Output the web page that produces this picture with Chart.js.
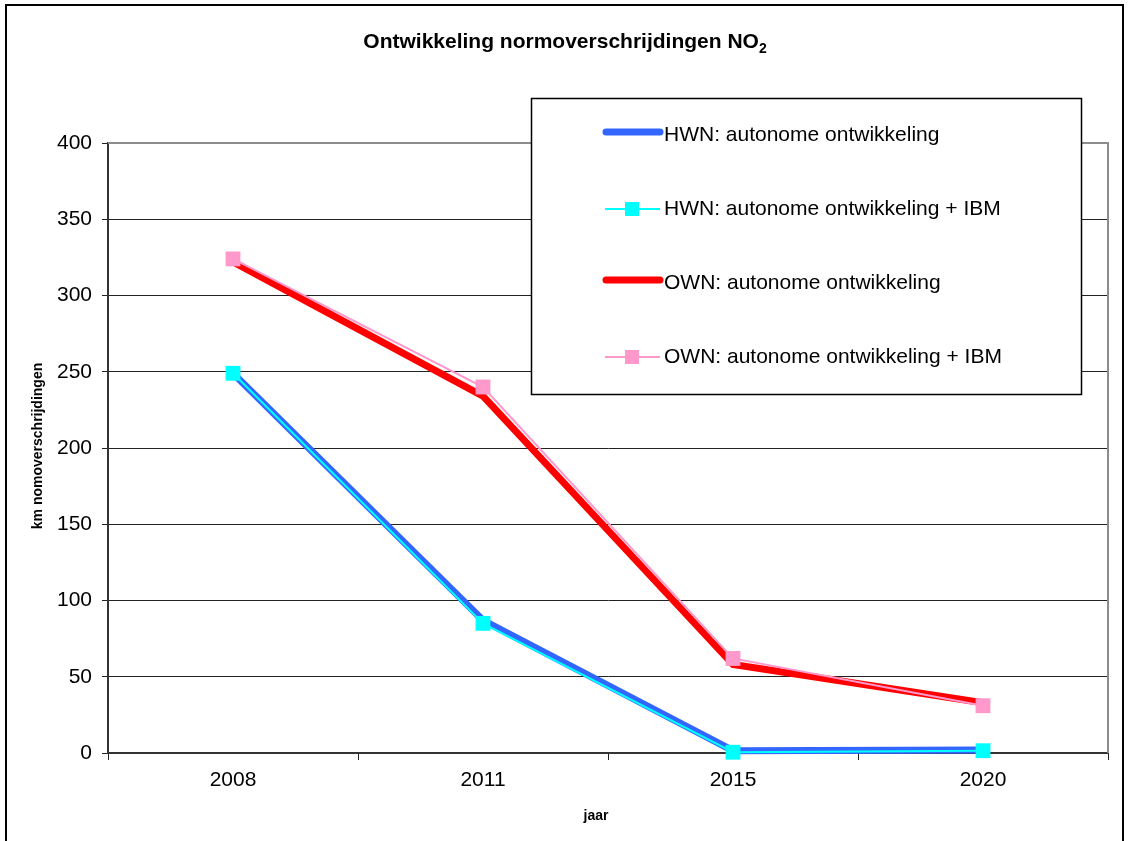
<!DOCTYPE html>
<html>
<head>
<meta charset="utf-8">
<title>Ontwikkeling normoverschrijdingen NO2</title>
<script src="https://cdn.jsdelivr.net/npm/chart.js@4.4.1/dist/chart.umd.min.js"></script>
<style>
    html, body { margin: 0; padding: 0; background: #fff; }
    #wrap { position: relative; width: 1129px; height: 841px; }
</style>
</head>
<body>
<div id="wrap"><canvas id="no2chart"></canvas></div>
<script>
"use strict";

/* jaren en km normoverschrijding per scenario */
var jaren = ['2008', '2011', '2015', '2020'];
var hwnAutonoom = [249, 87, 1.5, 2];
var hwnIbm = [249, 85, 0.5, 1.5];
var ownAutonoom = [322, 234, 58, 33];
var ownIbm = [324, 240, 62, 31];
var yTicks = [0, 50, 100, 150, 200, 250, 300, 350, 400];

var FONT = "Arial, 'Liberation Sans', sans-serif";

/* frame, titles, plot border and the boxed legend */
var decorPlugin = {
    id: 'decor',
    beforeDatasetsDraw: function (chart) {
        var ctx = chart.ctx, a = chart.chartArea;
        ctx.save();
        ctx.strokeStyle = '#8c8c8c';
        ctx.lineWidth = 2;
        ctx.beginPath();
        ctx.moveTo(a.left, a.top);
        ctx.lineTo(a.right, a.top);
        ctx.lineTo(a.right, a.bottom);
        ctx.stroke();
        ctx.restore();
    },
    afterDraw: function (chart) {
        var ctx = chart.ctx;
        ctx.save();

        // outer frame
        ctx.strokeStyle = '#000';
        ctx.lineWidth = 2;
        ctx.strokeRect(6, 5, 1117, 860);

        // title with subscript 2
        ctx.fillStyle = '#000';
        ctx.textBaseline = 'middle';
        ctx.font = 'bold 21px ' + FONT;
        var main = 'Ontwikkeling normoverschrijdingen NO';
        var w1 = ctx.measureText(main).width;
        ctx.font = 'bold 14px ' + FONT;
        var w2 = ctx.measureText('2').width;
        var x0 = 565 - (w1 + w2) / 2;
        ctx.font = 'bold 21px ' + FONT;
        ctx.textAlign = 'left';
        ctx.fillText(main, x0, 42);
        ctx.font = 'bold 14px ' + FONT;
        ctx.fillText('2', x0 + w1, 49);

        // axis titles
        ctx.font = 'bold 14px ' + FONT;
        ctx.textAlign = 'center';
        ctx.fillText('jaar', 596, 816);
        ctx.save();
        ctx.translate(38, 446);
        ctx.rotate(-Math.PI / 2);
        ctx.fillText('km nomoverschrijdingen', 0, 0);
        ctx.restore();

        // legend box
        var lx = 531, ly = 98, lw = 550, lh = 296;
        ctx.fillStyle = '#fff';
        ctx.fillRect(lx, ly, lw, lh);
        ctx.strokeStyle = '#000';
        ctx.lineWidth = 1.5;
        ctx.strokeRect(lx + 0.5, ly + 0.5, lw, lh);

        var rows = [135, 209, 283, 357];
        chart.data.datasets.forEach(function (ds, i) {
            var y = rows[i];
            var thick = ds.borderWidth > 3;
            ctx.strokeStyle = ds.borderColor;
            ctx.lineWidth = ds.borderWidth;
            ctx.lineCap = thick ? 'round' : 'butt';
            ctx.beginPath();
            ctx.moveTo(thick ? 606 : 605, thick ? y - 3 : y);
            ctx.lineTo(thick ? 660 : 660, thick ? y - 3 : y);
            ctx.stroke();
            if (ds.pointRadius > 0) {
                ctx.fillStyle = ds.pointBackgroundColor;
                ctx.fillRect(625, y - 7, 14, 14);
            }
            ctx.fillStyle = '#000';
            ctx.font = '21px ' + FONT;
            ctx.textAlign = 'left';
            ctx.textBaseline = 'middle';
            ctx.fillText(ds.label, 664, y);
        });
        ctx.restore();
    }
};

var ctxNo2 = document.getElementById('no2chart').getContext('2d');
var no2Config = {
    type: 'line',
    data: {
        labels: jaren,
        datasets: [{
            label: 'HWN: autonome ontwikkeling',
            data: hwnAutonoom,
            borderColor: '#3366ff',
            borderWidth: 7,
            pointRadius: 0,
            order: 4
        }, {
            label: 'HWN: autonome ontwikkeling + IBM',
            data: hwnIbm,
            borderColor: '#00ffff',
            borderWidth: 2,
            pointStyle: 'rect',
            pointRadius: 10.5,
            pointBackgroundColor: '#00ffff',
            pointBorderWidth: 0,
            order: 3
        }, {
            label: 'OWN: autonome ontwikkeling',
            data: ownAutonoom,
            borderColor: '#ff0000',
            borderWidth: 7,
            pointRadius: 0,
            order: 2
        }, {
            label: 'OWN: autonome ontwikkeling + IBM',
            data: ownIbm,
            borderColor: '#ff99cc',
            borderWidth: 2,
            pointStyle: 'rect',
            pointRadius: 10.5,
            pointBackgroundColor: '#ff99cc',
            pointBorderWidth: 0,
            order: 1
        }]
    },
    options: {
        animation: false,
        responsive: true,
        maintainAspectRatio: false,
        layout: {
            padding: { top: 143, right: 21, bottom: 0, left: 0 }
        },
        plugins: {
            legend: { display: false },
            title: { display: false },
            tooltip: { enabled: false }
        },
        elements: {
            line: { tension: 0, borderJoinStyle: 'miter' },
            point: { hitRadius: 0, hoverRadius: 0 }
        },
        datasets: {
            line: { clip: 12 }
        },
        scales: {
            x: {
                offset: true,
                afterFit: function (scale) { scale.height = 88; },
                grid: {
                    offset: true,
                    drawOnChartArea: false,
                    color: '#222',
                    tickLength: 7
                },
                border: { color: '#333', width: 2 },
                ticks: {
                    color: '#000',
                    padding: 8,
                    font: { family: FONT, size: 21 }
                }
            },
            y: {
                min: 0,
                max: 400,
                afterFit: function (scale) { scale.width = 108; },
                afterBuildTicks: function (scale) {
                    scale.ticks = yTicks.map(function (v) { return { value: v }; });
                },
                grid: {
                    color: '#222',
                    lineWidth: 1,
                    tickLength: 6
                },
                border: { color: '#333', width: 2 },
                ticks: {
                    color: '#000',
                    padding: 10,
                    font: { family: FONT, size: 21 }
                }
            }
        }
    },
    plugins: [decorPlugin]
};
var no2Chart = new Chart(ctxNo2, no2Config);
</script>
</body>
</html>
